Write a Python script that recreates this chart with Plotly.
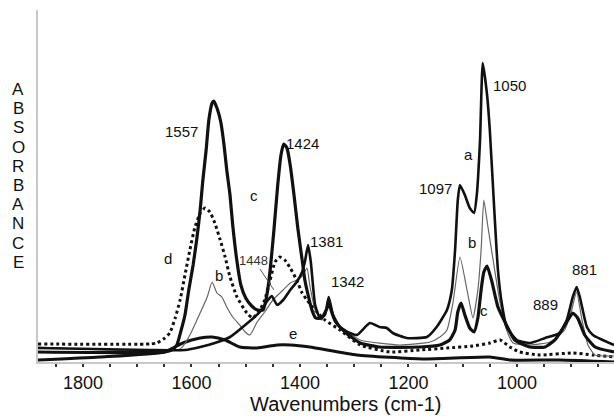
import plotly.graph_objects as go

# ---- data: wavenumber (cm-1) and absorbance (a.u.) ----
a_wn = [1883, 1677, 1612, 1584, 1557, 1529, 1501, 1474, 1459, 1452, 1442, 1431, 1418, 1406, 1396, 1391,
        1385, 1380, 1372, 1363, 1354, 1347, 1339, 1326, 1308, 1295, 1271, 1253, 1240, 1229, 1203, 1166,
        1148, 1129, 1120, 1114, 1109, 1105, 1096, 1087, 1079, 1074, 1068, 1063, 1055, 1050, 1041, 1035,
        1028, 1019, 1000, 976, 948, 921, 908, 897, 890, 884, 871, 860, 821]
a_abs = [0.07, 0.06, 0.06, 0.075, 0.095, 0.125, 0.185, 0.25, 0.31, 0.33, 0.285, 0.31, 0.36, 0.40, 0.45, 0.50,
         0.585, 0.50, 0.285, 0.22, 0.235, 0.325, 0.235, 0.175, 0.145, 0.135, 0.195, 0.175, 0.17, 0.145, 0.12, 0.125,
         0.175, 0.26, 0.36, 0.56, 0.81, 0.885, 0.835, 0.77, 0.745, 0.835, 1.11, 1.495, 1.335, 1.16, 0.725, 0.46,
         0.295, 0.175, 0.11, 0.095, 0.12, 0.145, 0.21, 0.325, 0.375, 0.325, 0.175, 0.135, 0.085]

b_wn = [1883, 1621, 1603, 1590, 1571, 1562, 1553, 1544, 1535, 1524, 1511, 1501, 1492, 1479, 1465, 1450,
        1431, 1418, 1406, 1396, 1387, 1382, 1372, 1360, 1347, 1336, 1317, 1289, 1216, 1160, 1142, 1129,
        1118, 1105, 1092, 1081, 1072, 1066, 1061, 1054, 1041, 1031, 1019, 1007, 976, 939, 912, 899, 890,
        880, 869, 856, 821]
b_abs = [0.075, 0.065, 0.135, 0.21, 0.325, 0.40, 0.345, 0.325, 0.275, 0.225, 0.185, 0.15, 0.135, 0.20, 0.25, 0.31,
         0.36, 0.395, 0.41, 0.43, 0.47, 0.385, 0.26, 0.21, 0.285, 0.20, 0.16, 0.11, 0.085, 0.10, 0.125, 0.16,
         0.295, 0.525, 0.36, 0.22, 0.36, 0.56, 0.81, 0.685, 0.46, 0.295, 0.16, 0.095, 0.085, 0.10, 0.16, 0.26, 0.35,
         0.21, 0.085, 0.035, 0.03]

c_wn = [1883, 1649, 1636, 1627, 1619, 1612, 1605, 1597, 1590, 1584, 1579, 1573, 1568, 1562, 1559, 1553,
        1546, 1540, 1535, 1529, 1524, 1516, 1509, 1500, 1489, 1478, 1468, 1461, 1455, 1448, 1441, 1435,
        1430, 1424, 1418, 1411, 1404, 1396, 1391, 1385, 1378, 1371, 1360, 1350, 1347, 1341, 1334, 1317,
        1289, 1253, 1179, 1142, 1124, 1114, 1109, 1103, 1096, 1087, 1079, 1072, 1066, 1061, 1055, 1046,
        1035, 1022, 1004, 976, 948, 930, 915, 906, 897, 888, 875, 856, 821]
c_abs = [0.05, 0.05, 0.06, 0.085, 0.16, 0.235, 0.36, 0.485, 0.62, 0.76, 0.91, 1.06, 1.21, 1.295, 1.305, 1.27,
         1.20, 1.085, 0.96, 0.835, 0.685, 0.50, 0.385, 0.32, 0.28, 0.26, 0.26, 0.335, 0.46, 0.66, 0.885, 1.035,
         1.09, 1.07, 0.985, 0.835, 0.67, 0.51, 0.41, 0.335, 0.26, 0.22, 0.22, 0.27, 0.30, 0.245, 0.20, 0.15,
         0.095, 0.075, 0.075, 0.085, 0.11, 0.16, 0.25, 0.295, 0.235, 0.17, 0.15, 0.22, 0.36, 0.45, 0.48, 0.40,
         0.275, 0.20, 0.11, 0.075, 0.075, 0.11, 0.17, 0.21, 0.245, 0.22, 0.135, 0.075, 0.05]

d_wn = [1883, 1677, 1664, 1649, 1640, 1630, 1621, 1612, 1603, 1594, 1584, 1575, 1566, 1557, 1547, 1538,
        1529, 1516, 1498, 1487, 1474, 1465, 1455, 1446, 1437, 1428, 1418, 1406, 1396, 1387, 1372, 1354,
        1326, 1289, 1234, 1179, 1129, 1081, 1050, 1031, 1013, 995, 958, 897, 860, 821]
d_abs = [0.09, 0.09, 0.095, 0.12, 0.145, 0.22, 0.31, 0.435, 0.56, 0.67, 0.745, 0.77, 0.75, 0.695, 0.61, 0.525,
         0.425, 0.325, 0.245, 0.22, 0.26, 0.31, 0.41, 0.50, 0.525, 0.51, 0.47, 0.41, 0.345, 0.31, 0.26, 0.21,
         0.16, 0.085, 0.05, 0.06, 0.07, 0.08, 0.095, 0.11, 0.075, 0.05, 0.035, 0.045, 0.035, 0.025]

e_wn = [1883, 1769, 1650, 1616, 1584, 1562, 1538, 1511, 1479, 1442, 1418, 1382, 1295, 1174, 1050, 1013, 921, 821]
e_abs = [0.01, 0.025, 0.05, 0.095, 0.12, 0.125, 0.11, 0.075, 0.07, 0.085, 0.085, 0.075, 0.035, 0.015, 0.025, 0.01, 0.01, 0.0]

tick_vals = [850, 900, 950, 1000, 1050, 1100, 1150, 1200, 1250, 1300, 1350, 1400, 1450, 1500,
             1550, 1600, 1650, 1700, 1750, 1800, 1850]
tick_text = ["", "", "", "1000", "", "", "", "1200", "", "", "", "1400", "", "",
             "", "1600", "", "", "", "1800", ""]

# peak / curve labels: (text, wavenumber, absorbance, size)
labels = [
    ("1557", 1619, 1.155, 15), ("1424", 1395, 1.095, 15), ("c", 1485, 0.835, 15),
    ("1050", 1013, 1.385, 15), ("a", 1090, 1.04, 15), ("1097", 1151, 0.87, 15),
    ("b", 1083, 0.60, 15), ("c", 1061, 0.26, 15), ("1381", 1352, 0.605, 15),
    ("1342", 1312, 0.405, 15), ("889", 947, 0.29, 15), ("881", 875, 0.465, 15),
    ("d", 1643, 0.52, 15), ("b", 1549, 0.435, 15), ("e", 1413, 0.145, 15),
]
y_title = "ABSORBANCE"
x_title = "Wavenumbers (cm-1)"

FONT = "Liberation Sans, Arial, sans-serif"

fig = go.Figure()
shape = dict(shape="spline", smoothing=0.5)
fig.add_trace(go.Scatter(x=e_wn, y=e_abs, mode="lines", line=dict(color="#111111", width=3, **shape)))
fig.add_trace(go.Scatter(x=d_wn, y=d_abs, mode="lines", line=dict(color="#111111", width=3, dash="dot", **shape)))
fig.add_trace(go.Scatter(x=b_wn, y=b_abs, mode="lines", line=dict(color="#666666", width=1.2, **shape)))
fig.add_trace(go.Scatter(x=c_wn, y=c_abs, mode="lines", line=dict(color="#111111", width=3.2, **shape)))
fig.add_trace(go.Scatter(x=a_wn, y=a_abs, mode="lines", line=dict(color="#111111", width=2.6, **shape)))

ann = []
for t, xw, ya, sz in labels:
    ann.append(dict(text=t, x=xw, y=ya, xref="x", yref="y", showarrow=False,
                    font=dict(family=FONT, size=sz, color="#111111")))
# 1448 label with leader line
ann.append(dict(text="1448", x=1448, y=0.36, xref="x", yref="y", showarrow=True,
                arrowhead=0, arrowwidth=1, arrowcolor="#555555", ax=-20, ay=-30,
                font=dict(family=FONT, size=13, color="#333333")))
# vertical stacked y title
for i, ch in enumerate(y_title):
    py = 89 + i * 19.2
    ann.append(dict(text=ch, x=-0.0347, y=(362 - py) / 352, xref="paper", yref="paper",
                    showarrow=False, xanchor="center", yanchor="middle", height=16, borderpad=0,
                    font=dict(family=FONT, size=17, color="#111111")))
ann.append(dict(text=x_title, x=0.535, y=-0.119, xref="paper", yref="paper", showarrow=False,
                xanchor="center", yanchor="middle", font=dict(family=FONT, size=20, color="#111111")))

fig.update_layout(
    width=614, height=416,
    margin=dict(l=38, r=0, t=10, b=54),
    paper_bgcolor="white", plot_bgcolor="white",
    showlegend=False,
    annotations=ann,
    xaxis=dict(range=[1883, 821], showgrid=False, zeroline=False, showline=True,
               linecolor="#c8c8c8", linewidth=2, ticks="outside", ticklen=3, tickwidth=2,
               tickcolor="#333333", tickvals=tick_vals, ticktext=tick_text,
               tickfont=dict(family=FONT, size=18, color="#111111")),
    yaxis=dict(range=[0, 1.76], showgrid=False, zeroline=False, showline=True,
               linecolor="#c8c8c8", linewidth=2, showticklabels=False, ticks=""),
)

fig.write_html("out.html")
